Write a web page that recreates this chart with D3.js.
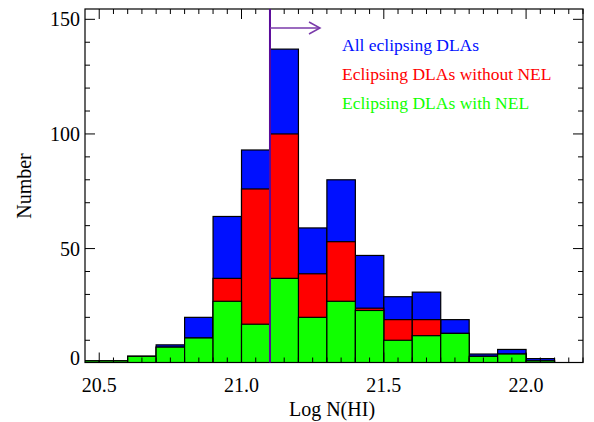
<!DOCTYPE html>
<html><head><meta charset="utf-8">
<script src="https://cdn.jsdelivr.net/npm/d3@7"></script>
<style>body{margin:0;background:#fff}svg{display:block}text{font-family:"Liberation Serif","Times New Roman",serif}</style>
</head><body>
<svg id="c" width="594" height="422"></svg>
<script>
const binStarts = [20.4,20.5,20.6,20.7,20.8,20.9,21.0,21.1,21.2,21.3,21.4,21.5,21.6,21.7,21.8,21.9,22.0];
const binWidth = 0.1;
const allDLAs     = [1,1,3,8,20,64,93,137,59,80,47,29,31,19,4,6,2];
const withoutNEL  = [1,1,3,7,11,37,76,100,39,53,24,19,19,13,3,4,1];
const withNEL     = [1,1,3,7,11,27,17,37,20,27,23,10,12,13,3,4,1];
const xMajorTicks = [20.5,21.0,21.5,22.0];
const xTickLabels = ["20.5","21.0","21.5","22.0"];
const yMajorTicks = [0,50,100,150];
const yTickLabels = ["0","50","100","150"];
const cutValue = 21.1;
const legendLabels = ["All eclipsing DLAs","Eclipsing DLAs without NEL","Eclipsing DLAs with NEL"];
const colors = ["#0010ff","#ff0000","#10ff00"];

const svg = d3.select("#c");
const L=85, R=583, T=9, B=362.5;
const x = d3.scaleLinear().domain([20.45,22.2]).range([L,R]);
const y = d3.scaleLinear().domain([0,154.5]).range([363.2,T]);

svg.append("defs").append("clipPath").attr("id","clip")
  .append("rect").attr("x",L).attr("y",T).attr("width",R-L).attr("height",B-T);

const g = svg.append("g").attr("clip-path","url(#clip)");
[allDLAs,withoutNEL,withNEL].forEach((arr,i)=>{
  g.selectAll(null).data(arr).enter().append("rect")
    .attr("x",(d,j)=>x(binStarts[j]))
    .attr("width",(d,j)=>x(binStarts[j]+binWidth)-x(binStarts[j]))
    .attr("y",d=>y(d))
    .attr("height",d=>y(0)-y(d))
    .attr("fill",colors[i]).attr("stroke","#000").attr("stroke-width",1.2);
});

// frame
svg.append("rect").attr("x",L).attr("y",T).attr("width",R-L).attr("height",B-T)
  .attr("fill","none").attr("stroke","#000").attr("stroke-width",1.2);

// x ticks
const xMinor = d3.range(20.5,22.2001,0.05).map(v=>+v.toFixed(2));
xMinor.forEach(v=>{
  const major = xMajorTicks.some(m=>Math.abs(m-v)<1e-6);
  const len = major?10:5;
  svg.append("line").attr("x1",x(v)).attr("x2",x(v)).attr("y1",B).attr("y2",B-len).attr("stroke","#000");
  svg.append("line").attr("x1",x(v)).attr("x2",x(v)).attr("y1",T).attr("y2",T+len).attr("stroke","#000");
});
svg.selectAll(".xl").data(xMajorTicks).enter().append("text")
  .attr("x",d=>x(d)).attr("y",392).attr("text-anchor","middle").attr("font-size",20)
  .text((d,i)=>xTickLabels[i]);

// y ticks
d3.range(0,155,10).forEach(v=>{
  const major = v%50===0;
  const len = major?10:5;
  const yy = y(v);
  if (yy>B-0.5) return;
  svg.append("line").attr("x1",L).attr("x2",L+len).attr("y1",yy).attr("y2",yy).attr("stroke","#000");
  svg.append("line").attr("x1",R).attr("x2",R-len).attr("y1",yy).attr("y2",yy).attr("stroke","#000");
});
svg.selectAll(".yl").data(yMajorTicks).enter().append("text")
  .attr("x",L-5).attr("y",d=>Math.min(y(d),358)+7).attr("text-anchor","end").attr("font-size",20)
  .text((d,i)=>yTickLabels[i]);

// axis titles
svg.append("text").attr("x",332).attr("y",416).attr("text-anchor","middle").attr("font-size",20).text("Log N(HI)");
svg.append("text").attr("transform","translate(31,186) rotate(-90)").attr("text-anchor","middle").attr("font-size",20).text("Number");

// cut line and arrow
svg.append("line").attr("x1",x(cutValue)).attr("x2",x(cutValue)).attr("y1",T).attr("y2",B)
  .attr("stroke","#5a0a9a").attr("stroke-width",2);
const ay = 28;
svg.append("line").attr("x1",x(cutValue)).attr("x2",320).attr("y1",ay).attr("y2",ay).attr("stroke","#7a3aaa").attr("stroke-width",1.5);
svg.append("path").attr("d",`M309,${ay-6} L320,${ay} L309,${ay+6}`).attr("fill","none").attr("stroke","#7a3aaa").attr("stroke-width",1.5);

// legend
legendLabels.forEach((t,i)=>{
  svg.append("text").attr("x",342).attr("y",51+i*29).attr("font-size",17.5).attr("fill",colors[i]).text(t);
});
</script>
</body></html>
